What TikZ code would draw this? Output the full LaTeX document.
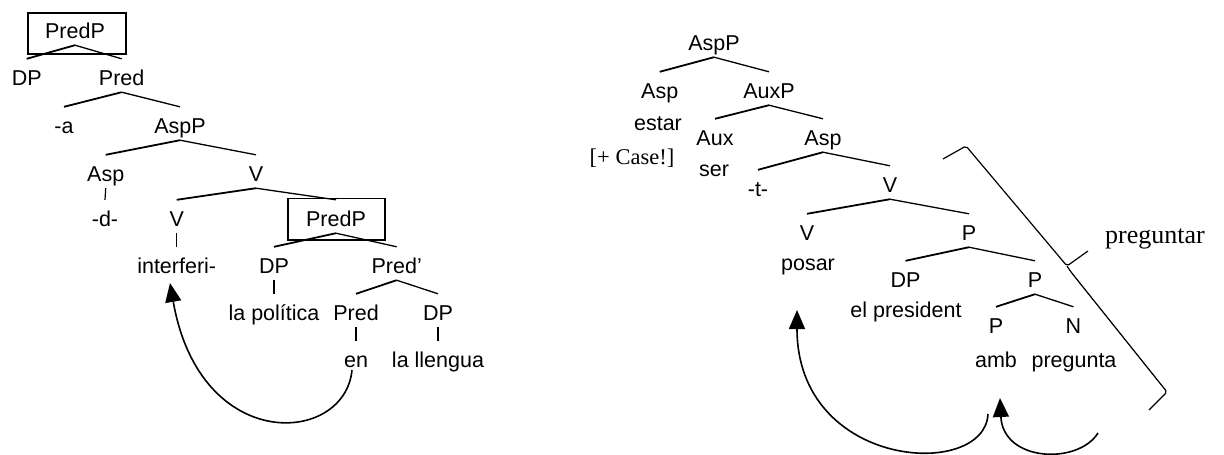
\documentclass[tikz,border=0pt]{standalone}
\usepackage{fontspec}
\setmainfont{Liberation Sans}
\newfontfamily\timesfont{Liberation Serif}
\usetikzlibrary{arrows.meta}

\begin{document}
\begin{tikzpicture}[x=1pt,y=-1pt,
  lab/.style={font=\fontsize{21.5}{24}\selectfont, anchor=base,
    text height=23.5pt, text depth=4.5pt, inner ysep=2.5pt, inner xsep=0pt},
  note/.style={font=\timesfont\fontsize{22.5}{26}\selectfont, anchor=base, inner sep=0pt},
  lbr/.style={line width=1.8pt},
  rbr/.style={line width=1.3pt},
  unary/.style={line width=1.2pt},
  pbox/.style={draw, line width=1.4pt, inner sep=0pt},
  brace/.style={line width=1.2pt, line join=round, rounded corners=2pt},
  move/.style={line width=1.6pt, -{Triangle[length=19pt,width=16pt]}}
]
\useasboundingbox (0,0) rectangle (1224,455);

% ---------------- left tree ----------------
\node[lab] (PredPa) at (75,38) {PredP};
\node[pbox, minimum width=98pt, minimum height=41pt] (boxa) at (77,33.5) {};
\node[lab] (DPa) at (26.7,85) {DP};
\node[lab] (Preda) at (121.7,85) {Pred};
\node[lab] (ma) at (64,133) {-a};
\node[lab] (AspPa) at (180,133) {AspP};
\node[lab] (Aspa) at (105.7,181) {Asp};
\node[lab] (Va) at (256,181) {V};
\node[lab] (da) at (105,226) {-d-};
\node[lab] (Vb) at (176.7,226) {V};
\node[lab] (PredPb) at (336,226) {PredP};
\node[pbox, minimum width=97pt, minimum height=41.5pt] (boxb) at (336.3,219.2) {};
\node[lab] (interf) at (176.7,273) {interferi-};
\node[lab] (DPb) at (274,273) {DP};
\node[lab] (Predpr) at (396.7,273) {Pred’};
\node[lab] (pol) at (274,320) {la política};
\node[lab] (Predb) at (356,320) {Pred};
\node[lab] (DPc) at (438,320) {DP};
\node[lab] (en) at (356,367) {en};
\node[lab] (lleng) at (438,367) {la llengua};

\draw[lbr] (PredPa.south) -- (DPa.north);
\draw[rbr] (PredPa.south) -- (Preda.north);
\draw[lbr] (Preda.south) -- (ma.north);
\draw[rbr] (Preda.south) -- (AspPa.north);
\draw[lbr] (AspPa.south) -- (Aspa.north);
\draw[rbr] (AspPa.south) -- (Va.north);
\draw[unary] (Aspa.south) -- (da.north);
\draw[lbr] (Va.south) -- (Vb.north);
\draw[rbr] (Va.south) -- (PredPb.north);
\draw[unary] (Vb.south) -- (interf.north);
\draw[lbr] (PredPb.south) -- (DPb.north);
\draw[rbr] (PredPb.south) -- (Predpr.north);
\draw[unary] (DPb.south) -- (pol.north);
\draw[lbr] (Predpr.south) -- (Predb.north);
\draw[rbr] (Predpr.south) -- (DPc.north);
\draw[unary] (Predb.south) -- (en.north);
\draw[unary] (DPc.south) -- (lleng.north);

% head movement of the preposition
\coordinate (enfoot) at (352,370);
\coordinate (interffoot) at (170,283);
\draw[move] (enfoot) .. controls (345,445) and (200,455) .. (interffoot);

% ---------------- right tree ----------------
\node[lab] (AspPr) at (714,50) {AspP};
\node[lab] (Aspr) at (659.7,98) {Asp};
\node[lab] (AuxP) at (769,98) {AuxP};
\node[lab] (estar) at (658,130) {estar};
\node[note] (case) at (632,164) {[+ Case!]};
\node[lab] (Aux) at (715,145) {Aux};
\node[lab] (Asprb) at (823,145) {Asp};
\node[lab] (ser) at (714,176) {ser};
\node[lab] (tt) at (758,196) {-t-};
\node[lab] (Vr) at (890,192) {V};
\node[lab] (Vrb) at (807,240) {V};
\node[lab] (Pr) at (969,240) {P};
\node[lab] (posar) at (808,270) {posar};
\node[lab] (DPr) at (905.5,287) {DP};
\node[lab] (Prb) at (1035,287) {P};
\node[lab] (pres) at (906,317) {el president};
\node[lab] (Prc) at (996,333) {P};
\node[lab] (Nr) at (1073.5,333) {N};
\node[lab] (amb) at (996,367) {amb};
\node[lab] (preg) at (1074,367) {pregunta};

\draw[lbr] (AspPr.south) -- (Aspr.north);
\draw[rbr] (AspPr.south) -- (AuxP.north);
\draw[lbr] (AuxP.south) -- (Aux.north);
\draw[rbr] (AuxP.south) -- (Asprb.north);
\draw[lbr] (Asprb.south) -- (tt.north);
\draw[rbr] (Asprb.south) -- (Vr.north);
\draw[lbr] (Vr.south) -- (Vrb.north);
\draw[rbr] (Vr.south) -- (Pr.north);
\draw[lbr] (Pr.south) -- (DPr.north);
\draw[rbr] (Pr.south) -- (Prb.north);
\draw[lbr] (Prb.south) -- (Prc.north);
\draw[rbr] (Prb.south) -- (Nr.north);

% brace grouping the lower structure
\coordinate (btop) at (943,159);
\coordinate (bcorner) at (966,146);
\coordinate (bmid) at (1067,266);
\coordinate (btip) at (1088,251);
\coordinate (blow) at (1167,392);
\coordinate (bend) at (1149,410);
\draw[brace] (btop) -- (bcorner) -- (bmid) -- (btip);
\draw[brace] (bmid) -- (1071,272) -- (blow) -- (bend);
\node[note, font=\timesfont\fontsize{26}{30}\selectfont] (pregtar) at (1155,243) {preguntar};

% movements
\coordinate (ambfoot) at (988,414);
\coordinate (posarfoot) at (797,310);
\coordinate (nfoot) at (1098,433);
\coordinate (ambhead) at (1000,398);
\draw[move] (ambfoot) .. controls (985,480) and (797,470) .. (posarfoot);
\draw[move] (nfoot) .. controls (1078,465) and (1003,462) .. (ambhead);
\end{tikzpicture}
\end{document}
